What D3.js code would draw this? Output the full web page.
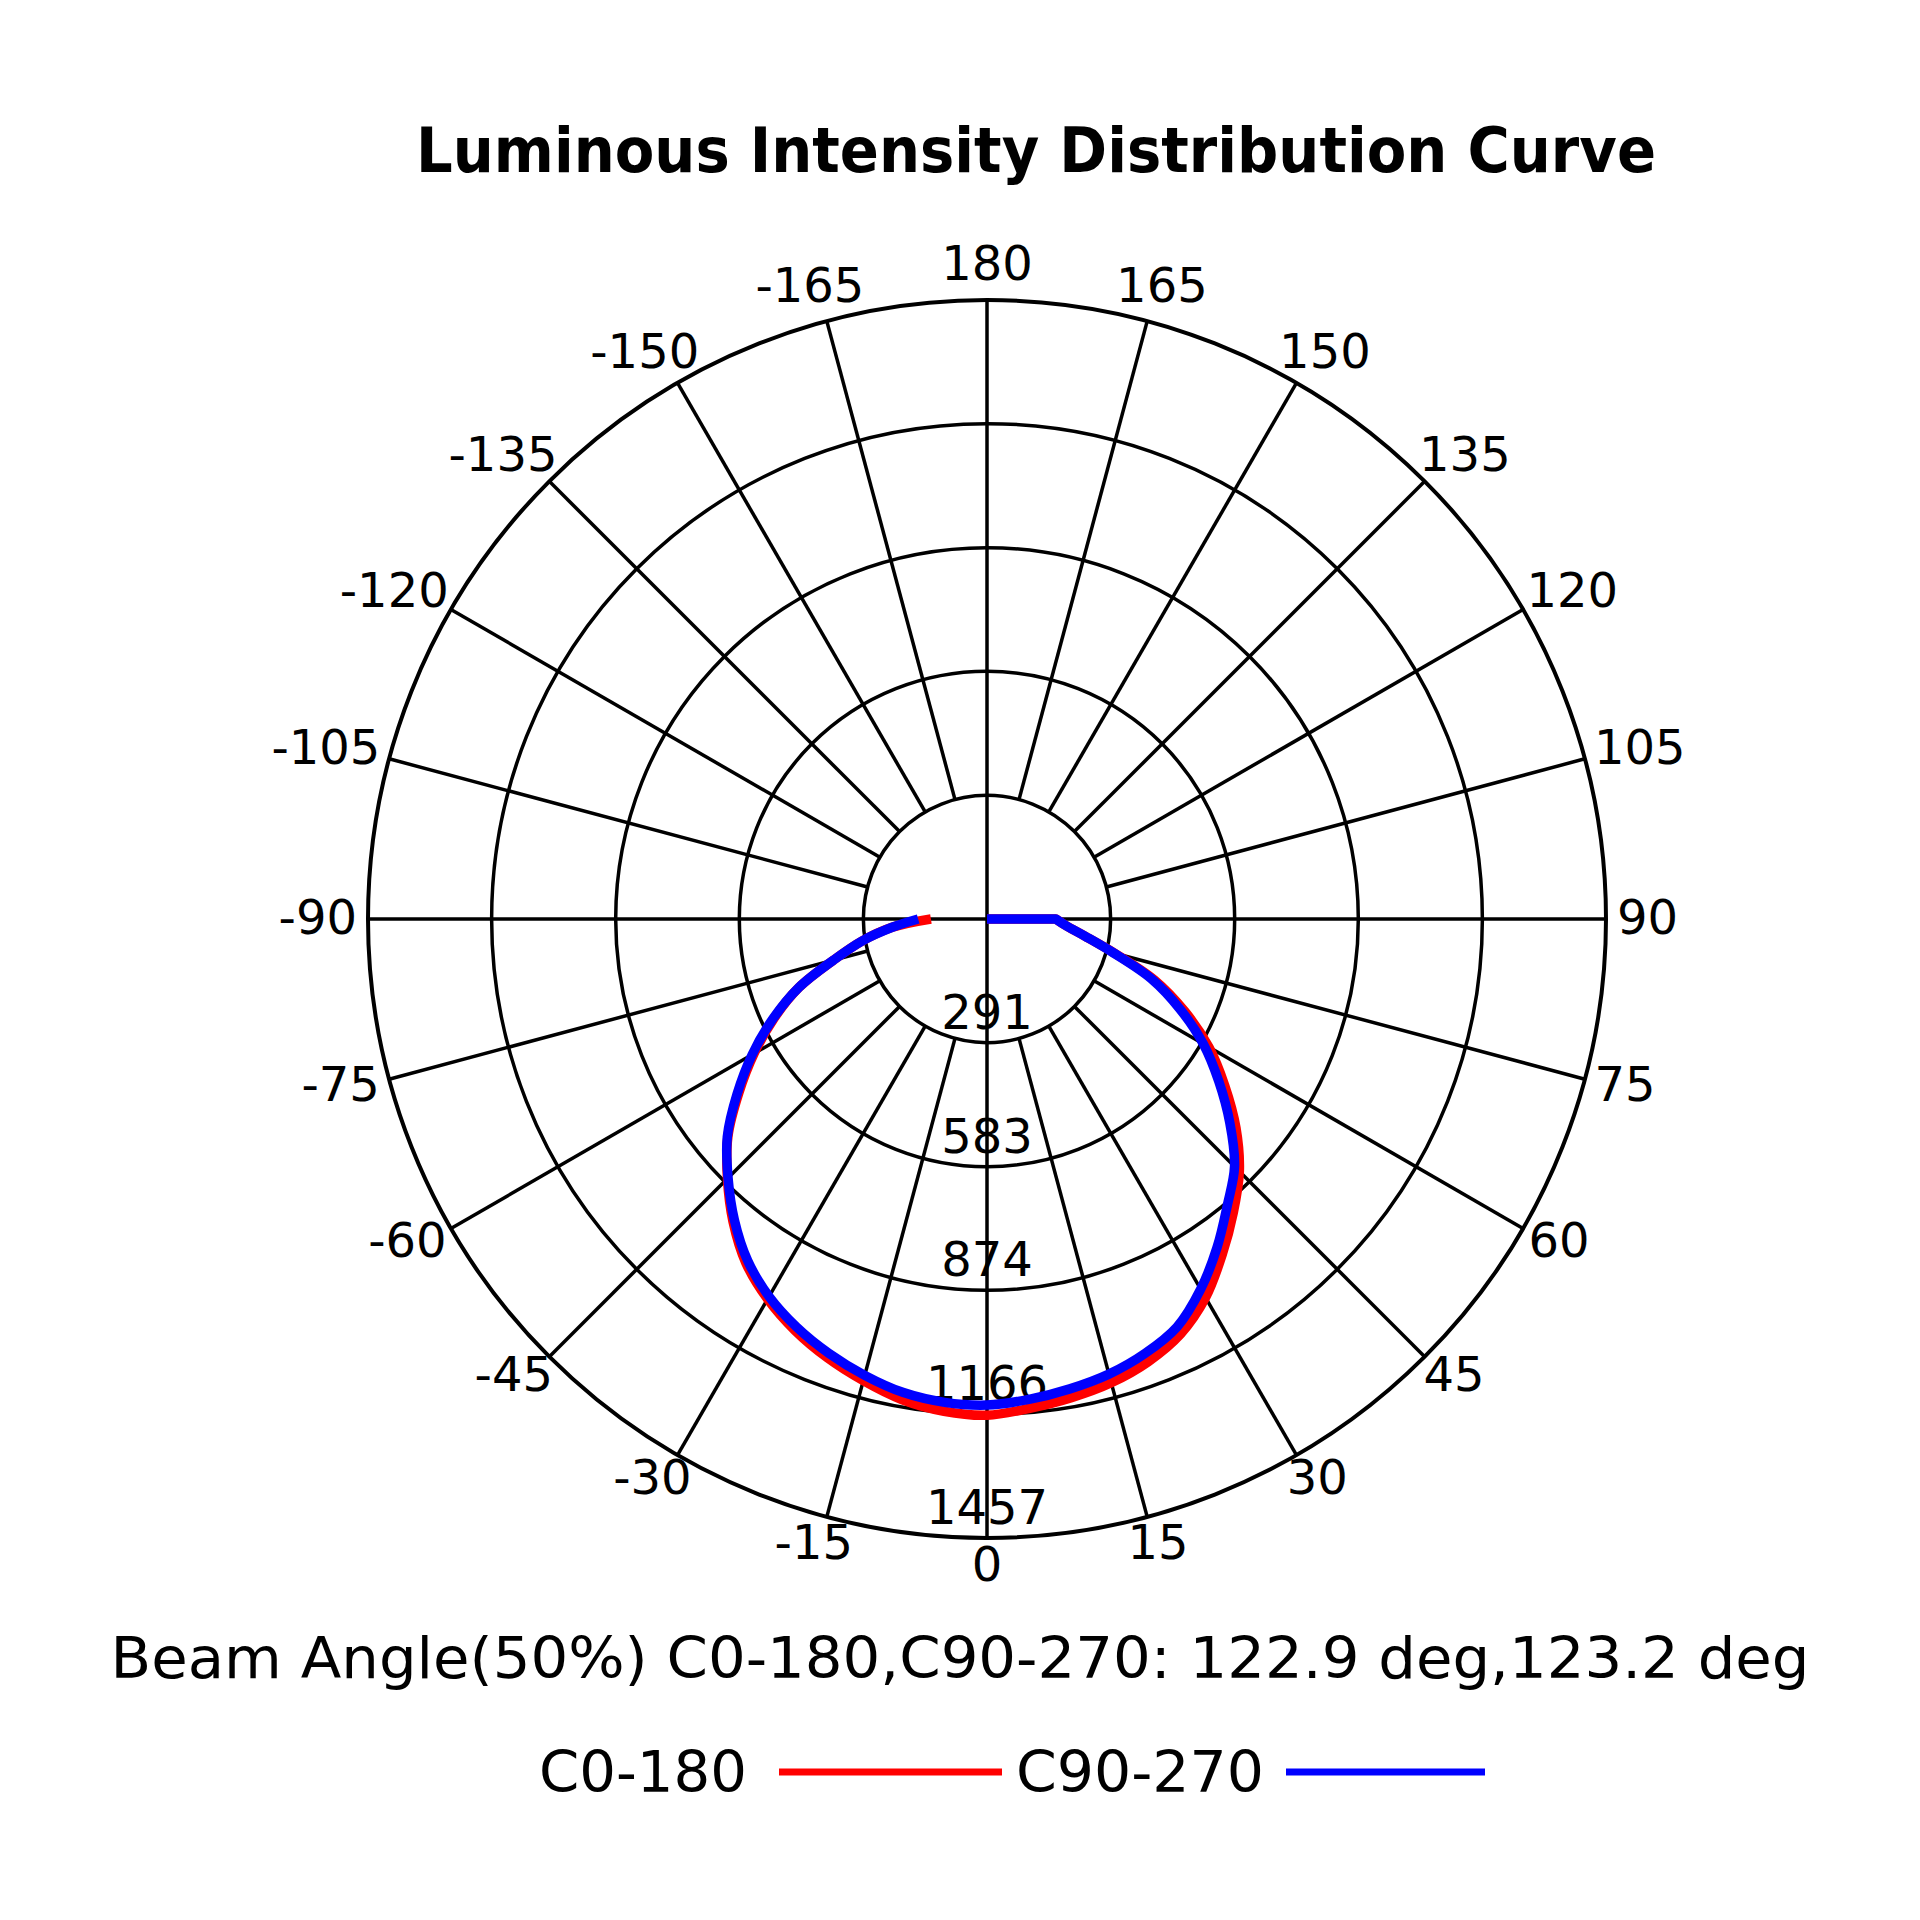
<!DOCTYPE html>
<html>
<head>
<meta charset="utf-8">
<script src="https://cdn.jsdelivr.net/npm/d3@7"></script>
<style>
  body { margin: 0; background: #fff; }
  svg { display: block; font-family: "DejaVu Sans", Verdana, sans-serif; }
</style>
</head>
<body>
<div id="chart"></div>
<script>
const title = 'Luminous Intensity Distribution Curve';
const beamText = 'Beam Angle(50%) C0-180,C90-270: 122.9 deg,123.2 deg';
const seriesNames = ['C0-180', 'C90-270'];
const seriesColors = ['#ff0000', '#0000ff'];

const ringValues = [291, 583, 874, 1166, 1457];
const maxValue = 1457;
const spokeAngles = [-165, -150, -135, -120, -105, -90, -75, -60, -45, -30, -15,
  0, 15, 30, 45, 60, 75, 90, 105, 120, 135, 150, 165, 180];

// gamma angles (0 = straight down, 90 = right)
const gamma = [-90, -85, -80, -75, -70, -65, -60, -55, -50, -45, -40, -35, -30, -25, -20, -15, -10, -5,
  0, 5, 10, 15, 20, 25, 30, 35, 40, 45, 50, 55, 60, 65, 70, 75, 80, 85, 90, 95];
const c0Values = [132, 224, 299, 374, 471, 553, 633, 713, 796, 864, 930, 989, 1033, 1069, 1099, 1125, 1149, 1163,
  1168, 1156, 1144, 1130, 1109, 1078, 1029, 965, 902, 840, 765, 683, 603, 513, 419, 311, 235, 188, 162, 0];
const c90Values = [162, 224, 299, 374, 471, 556, 638, 718, 798, 862, 925, 982, 1026, 1060, 1088, 1112, 1132, 1142,
  1144, 1135, 1123, 1109, 1088, 1059, 1006, 944, 880, 824, 746, 666, 588, 501, 412, 308, 235, 188, 162, 0];

const width = 1920, height = 1920;
const cx = 987, cy = 919, R = 619;

const svg = d3.select('#chart').append('svg')
  .attr('width', width)
  .attr('height', height);

const r = d3.scaleLinear().domain([0, maxValue]).range([0, R]);
// 0 deg points down, positive angles go right
const toRad = deg => Math.PI - deg * Math.PI / 180;

const plot = svg.append('g').attr('transform', `translate(${cx}, ${cy})`);

// rings
plot.selectAll('circle.ring')
  .data(ringValues)
  .join('circle')
    .attr('class', 'ring')
    .attr('r', d => r(d))
    .attr('fill', 'none')
    .attr('stroke', '#000')
    .attr('stroke-width', (d, i) => i === ringValues.length - 1 ? 4 : 3.5);

// spokes: axes through the centre, the rest start at the first ring
plot.selectAll('line.spoke')
  .data(spokeAngles)
  .join('line')
    .attr('class', 'spoke')
    .attr('x1', d => d % 90 === 0 ? 0 : r(ringValues[0]) * Math.sin(d * Math.PI / 180))
    .attr('y1', d => d % 90 === 0 ? 0 : r(ringValues[0]) * Math.cos(d * Math.PI / 180))
    .attr('x2', d => R * Math.sin(d * Math.PI / 180))
    .attr('y2', d => R * Math.cos(d * Math.PI / 180))
    .attr('stroke', '#000')
    .attr('stroke-width', 3.5);

// ring value labels on the downward axis
plot.selectAll('text.ring-label')
  .data(ringValues)
  .join('text')
    .attr('class', 'ring-label')
    .attr('x', 0)
    .attr('y', d => r(d) - 14)
    .attr('text-anchor', 'middle')
    .attr('font-size', 48)
    .text(d => d);

// angle labels, box edge kept just outside the outer ring
const labelSize = 48;
const pad = 11;
plot.selectAll('text.angle-label')
  .data(spokeAngles)
  .join('text')
    .attr('class', 'angle-label')
    .attr('text-anchor', 'middle')
    .attr('font-size', labelSize)
    .text(d => d)
    .each(function(d) {
      const a = d * Math.PI / 180;
      const dx = Math.sin(a), dy = Math.cos(a);
      const w = this.getComputedTextLength();
      const h = labelSize * 0.73;
      const x = (R + pad) * dx + dx * w / 2;
      const lift = dy < 0 ? 3 - 6 * dy : 3;
      const y = (R + pad) * dy + dy * h / 2 + h / 2 - lift;
      d3.select(this).attr('x', x).attr('y', y);
    });

// curves: smooth through the measured points, straight drop to the centre at the end
const smooth = d3.lineRadial()
  .angle(d => toRad(d[0]))
  .radius(d => r(d[1]))
  .curve(d3.curveCatmullRom.alpha(0.5));
const straight = d3.lineRadial()
  .angle(d => toRad(d[0]))
  .radius(d => r(d[1]));

[c0Values, c90Values].forEach((vals, i) => {
  const pts = gamma.map((g, j) => [g, vals[j]]);
  const d = smooth(pts.slice(0, -1)) + straight(pts.slice(-2)).replace(/^M[^L]*/, '');
  plot.append('path')
    .attr('fill', 'none')
    .attr('stroke', seriesColors[i])
    .attr('stroke-width', 9.5)
    .attr('stroke-linejoin', 'round')
    .attr('d', d);
});

// title
svg.append('text')
  .attr('x', 1036)
  .attr('y', 172)
  .attr('text-anchor', 'middle')
  .attr('font-size', 62)
  .attr('font-weight', 'bold')
  .attr('textLength', 1240)
  .attr('lengthAdjust', 'spacingAndGlyphs')
  .text(title);

// beam angle note
svg.append('text')
  .attr('x', 960)
  .attr('y', 1678)
  .attr('text-anchor', 'middle')
  .attr('font-size', 57)
  .attr('textLength', 1699)
  .attr('lengthAdjust', 'spacingAndGlyphs')
  .text(beamText);

// legend
const legendText = [[539, 208], [1016, 248]];
const legendLine = [[779, 1002], [1286, 1485]];
const legend = svg.append('g');
seriesNames.forEach((name, i) => {
  legend.append('text')
    .attr('x', legendText[i][0])
    .attr('y', 1792)
    .attr('font-size', 57)
    .attr('textLength', legendText[i][1])
    .attr('lengthAdjust', 'spacingAndGlyphs')
    .text(name);
  legend.append('line')
    .attr('x1', legendLine[i][0])
    .attr('x2', legendLine[i][1])
    .attr('y1', 1772)
    .attr('y2', 1772)
    .attr('stroke', seriesColors[i])
    .attr('stroke-width', 7);
});
</script>
</body>
</html>
